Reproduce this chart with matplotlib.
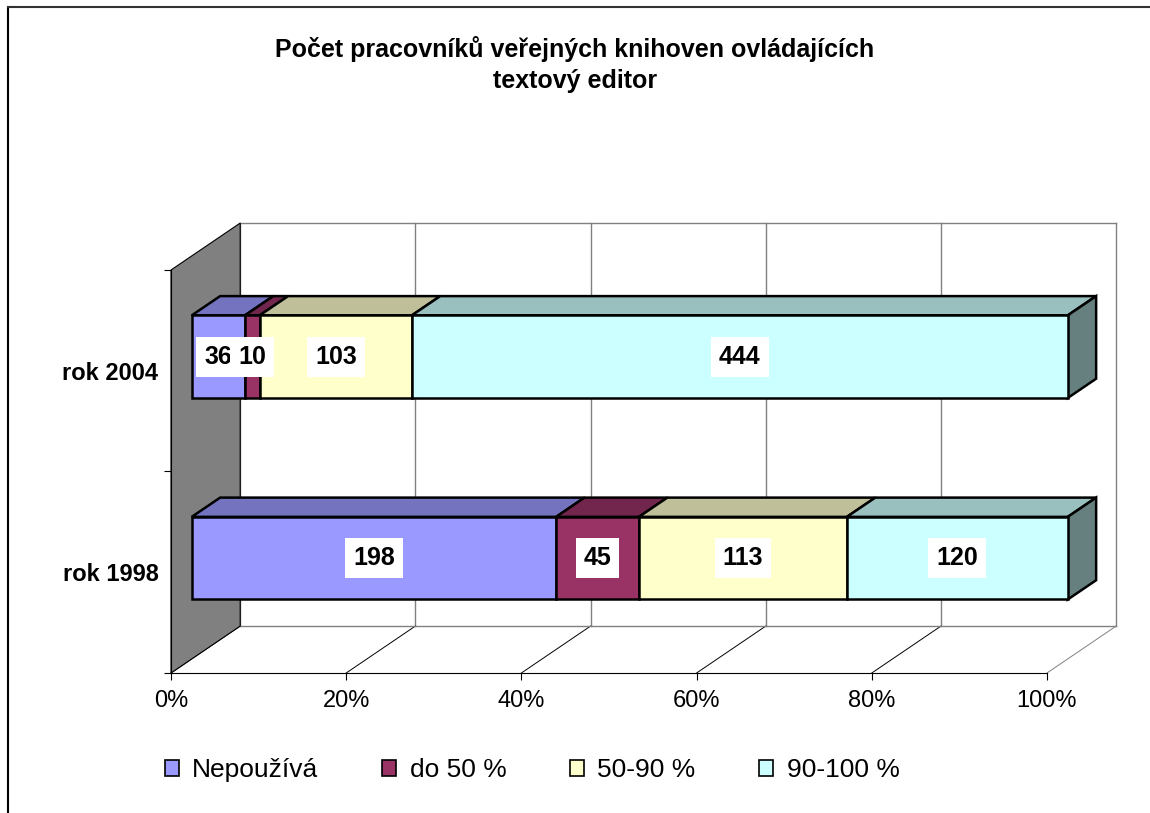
import matplotlib
matplotlib.use("Agg")
import matplotlib.pyplot as plt
from matplotlib.patches import Polygon, Patch

plt.rcParams['font.family'] = ['Liberation Sans', 'DejaVu Sans']

categories = ['rok 1998', 'rok 2004']
series = ['Nepoužívá', 'do 50 %', '50-90 %', '90-100 %']
values = {
    'rok 1998': [198, 45, 113, 120],
    'rok 2004': [36, 10, 103, 444],
}
front_colors = ['#9999FF', '#993366', '#FFFFCC', '#CCFFFF']
top_colors = ['#7373BF', '#73264D', '#BFBF99', '#99BFBF']
side_colors = ['#4D4D80', '#4D1A33', '#808066', '#668080']
ticks = [0, 20, 40, 60, 80, 100]

# pseudo-3d depth offset in data units (x in %, y in category units)
DX, DY = 7.9, 0.233
F0, F1 = 0.30, 0.71
BAR_H = 0.41


def shift(x, y, f):
    return (x + f * DX, y + f * DY)


fig = plt.figure(figsize=(11.5, 8.13), dpi=100)
ax = fig.add_axes([171 / 1150, 140 / 813, 876 / 1150, 403 / 813])
ax.set_xlim(0, 100)
ax.set_ylim(0, 2)
ax.patch.set_visible(False)
for s in ['top', 'right']:
    ax.spines[s].set_visible(False)
ax.spines['bottom'].set_color('#000000')
ax.spines['left'].set_color('#000000')
ax.spines['bottom'].set_linewidth(0.8)
ax.spines['left'].set_linewidth(0.8)

grid = '#808080'
# side wall
wall = Polygon([(0, 0), (0, 2), shift(0, 2, 1), shift(0, 0, 1)],
               closed=True, facecolor='#808080', edgecolor='#000000',
               lw=0.8, clip_on=False, zorder=1)
ax.add_patch(wall)
# back wall gridlines and floor lines
for t in ticks:
    bx, by = shift(t, 0, 1)
    ax.plot([bx, bx], [by, 2 + DY], color=grid, lw=1, clip_on=False, zorder=0.5)
    ax.plot([t, bx], [0, by], color='#000000' if t < 100 else grid, lw=0.7,
            clip_on=False, zorder=0.5)
ax.plot([DX, 100 + DX], [2 + DY, 2 + DY], color=grid, lw=1, clip_on=False, zorder=0.5)
ax.plot([DX, 100 + DX], [DY, DY], color=grid, lw=1, clip_on=False, zorder=0.5)

# bars
for ci, cat in enumerate(categories):
    vals = values[cat]
    total = float(sum(vals))
    yc = ci + 0.5
    y0, y1 = yc - BAR_H / 2, yc + BAR_H / 2
    left = 0.0
    for si, v in enumerate(vals):
        w = v / total * 100
        x0, x1 = left, left + w
        front = [shift(x0, y0, F0), shift(x1, y0, F0), shift(x1, y1, F0), shift(x0, y1, F0)]
        top = [shift(x0, y1, F0), shift(x1, y1, F0), shift(x1, y1, F1), shift(x0, y1, F1)]
        ax.add_patch(Polygon(top, closed=True, facecolor=top_colors[si],
                             edgecolor='#000000', lw=1.8, clip_on=False, zorder=3))
        ax.add_patch(Polygon(front, closed=True, facecolor=front_colors[si],
                             edgecolor='#000000', lw=1.8, clip_on=False, zorder=4))
        if si == len(vals) - 1:
            side = [shift(x1, y0, F0), shift(x1, y0, F1), shift(x1, y1, F1), shift(x1, y1, F0)]
            ax.add_patch(Polygon(side, closed=True, facecolor=side_colors[si],
                                 edgecolor='#000000', lw=1.8, clip_on=False, zorder=3))
        lx, ly = shift((x0 + x1) / 2, yc, F0)
        ax.text(lx, ly, str(v), ha='center', va='center', fontsize=18,
                fontweight='bold', zorder=6,
                bbox=dict(boxstyle='square,pad=0.32', facecolor='white', edgecolor='none'))
        left = x1

ax.set_xticks(ticks)
ax.set_xticklabels([f'{t}%' for t in ticks], fontsize=17)
ax.tick_params(axis='x', length=5, width=0.8, pad=7)
ax.set_yticks([0.5, 1.5])
ax.set_yticklabels(categories, fontsize=17, fontweight='bold')
ax.set_yticks([0, 1, 2], minor=True)
ax.tick_params(axis='y', which='major', length=0, pad=9)
ax.tick_params(axis='y', which='minor', length=5, width=0.8)

fig.text(0.5, 1 - 64.5 / 813, 'Počet pracovníků veřejných knihoven ovládajících\ntextový editor',
         ha='center', va='center', fontsize=18, fontweight='bold', linespacing=1.4)

handles = [Patch(facecolor=c, edgecolor='#000000', lw=1.2) for c in front_colors]
fig.legend(handles, series, loc='center', bbox_to_anchor=(532 / 1150, 1 - 770 / 813),
           ncol=4, frameon=False, fontsize=19, handlelength=0.55, handleheight=0.55,
           handletextpad=0.5, columnspacing=2.4)

# outer frame (cropped on right and bottom)
fig.add_artist(plt.Line2D([8 / 1150, 8 / 1150], [0, 1 - 7 / 813], color='#000000',
                          lw=1.5, transform=fig.transFigure))
fig.add_artist(plt.Line2D([8 / 1150, 1], [1 - 7 / 813, 1 - 7 / 813], color='#333333',
                          lw=1.5, transform=fig.transFigure))

fig.savefig('out.png', dpi=100)
